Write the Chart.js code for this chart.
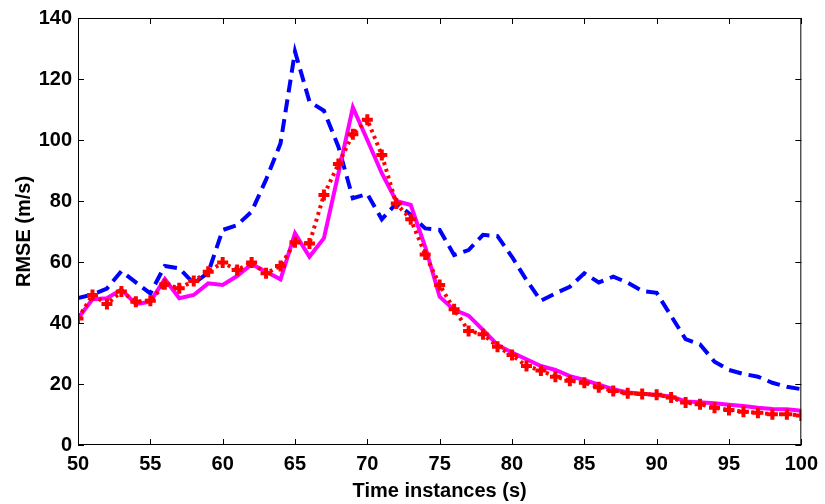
<!DOCTYPE html>
<html>
<head>
<meta charset="utf-8">
<script src="https://cdn.jsdelivr.net/npm/chart.js@4/dist/chart.umd.min.js"></script>
<style>
html,body{margin:0;padding:0;background:#fff;}
canvas{display:block;}
</style>
</head>
<body>
<canvas id="c" width="825" height="504"></canvas>
<script>
const timeInstances = [50,51,52,53,54,55,56,57,58,59,60,61,62,63,64,65,66,67,68,69,70,71,72,73,74,75,76,77,78,79,80,81,82,83,84,85,86,87,88,89,90,91,92,93,94,95,96,97,98,99,100];

const blueDashed = [48.2,49.3,51.3,57.0,53.3,49.7,58.7,57.9,53.0,56.5,70.5,72.1,76.5,87.0,98.9,129.0,112.6,109.6,97.8,80.9,82.3,74.0,79.2,75.5,71.0,70.5,62.3,63.9,68.9,68.5,61.7,54.1,47.3,49.7,51.9,56.3,53.3,55.2,53.2,50.5,49.9,42.3,34.7,33.0,27.3,24.6,23.3,22.4,20.4,19.1,18.3];

const magentaSolid = [41.5,47.8,48.1,51.0,46.2,47.0,54.4,48.1,49.2,53.0,52.5,55.4,59.3,56.8,54.3,69.4,61.7,67.8,89.0,110.7,100.0,89.1,80.0,78.7,65.0,48.6,44.3,42.4,37.7,32.8,30.3,28.1,25.9,24.6,22.6,21.3,19.8,18.3,17.2,16.8,16.4,15.9,14.3,14.0,13.7,13.2,12.8,12.2,11.8,11.7,11.2];

const redDotted = [41.5,49.2,46.2,50.3,47.0,47.3,52.7,51.4,53.8,56.8,59.8,57.4,59.8,56.3,58.7,66.5,66.1,82.0,92.1,101.9,106.6,95.1,79.2,74.0,62.5,52.5,44.5,37.4,36.3,32.2,29.5,25.9,24.4,22.4,21.1,20.4,18.9,17.7,17.0,16.7,16.5,15.6,13.9,13.4,12.2,11.5,10.9,10.6,10.1,10.1,9.7];

const xTicks = [50,55,60,65,70,75,80,85,90,95,100];
const yTicks = [0,20,40,60,80,100,120,140];

const toPoints = arr => timeInstances.map((t,i)=>({x:t,y:arr[i]}));

const FONT = "'Liberation Sans', Arial, Helvetica, sans-serif";

const framePlugin = {
  id:'frame',
  afterDatasetsDraw(chart){
    const {ctx, chartArea:a, scales} = chart;
    ctx.save();
    ctx.strokeStyle = '#000';
    ctx.lineWidth = 1;
    ctx.strokeRect(a.left+0.5, a.top+0.5, a.right-a.left-1, a.bottom-a.top-1);
    const L = 6;
    ctx.beginPath();
    xTicks.forEach(v=>{
      const px = Math.round(scales.x.getPixelForValue(v))+0.5;
      ctx.moveTo(px, a.bottom); ctx.lineTo(px, a.bottom-L);
      ctx.moveTo(px, a.top); ctx.lineTo(px, a.top+L);
    });
    yTicks.forEach(v=>{
      const py = Math.round(scales.y.getPixelForValue(v))+0.5;
      ctx.moveTo(a.left, py); ctx.lineTo(a.left+L, py);
      ctx.moveTo(a.right, py); ctx.lineTo(a.right-L, py);
    });
    ctx.stroke();
    ctx.restore();
  }
};

new Chart(document.getElementById('c'), {
  type:'line',
  data:{
    datasets:[
      {
        label:'Red',
        data:toPoints(redDotted),
        borderColor:'#ff0000',
        backgroundColor:'#ff0000',
        borderWidth:4,
        borderDash:[3,4],
        borderCapStyle:'butt',
        pointStyle:'cross',
        pointRadius:5.5,
        pointBorderWidth:4,
        pointBorderColor:'#ff0000',
        pointBackgroundColor:'#ff0000',
        tension:0,
        fill:false,
        order:0
      },
      {
        label:'Magenta',
        data:toPoints(magentaSolid),
        borderColor:'#ff00ff',
        borderWidth:4,
        pointRadius:0,
        tension:0,
        fill:false,
        order:1
      },
      {
        label:'Blue',
        data:toPoints(blueDashed),
        borderColor:'#0000ff',
        borderWidth:4,
        borderDash:[13,7],
        borderCapStyle:'butt',
        pointRadius:0,
        tension:0,
        fill:false,
        order:2
      }
    ]
  },
  options:{
    responsive:false,
    animation:false,
    devicePixelRatio:1,
    layout:{padding:{left:0,right:18,top:18,bottom:0}},
    plugins:{legend:{display:false},tooltip:{enabled:false}},
    scales:{
      x:{
        type:'linear',
        min:50,max:100,
        afterFit(s){ s.height = 59; },
        afterBuildTicks(s){ s.ticks = xTicks.map(v=>({value:v})); },
        grid:{display:true,drawOnChartArea:false,drawTicks:false,color:'#000'},
        border:{display:false},
        ticks:{color:'#000',padding:7,maxRotation:0,autoSkip:false,font:{family:FONT,size:20,weight:'bold'}},
        title:{display:true,text:'Time instances (s)',color:'#000',padding:{top:0,bottom:1},font:{family:FONT,size:20,weight:'bold'}}
      },
      y:{
        type:'linear',
        min:0,max:140,
        afterFit(s){ s.width = 78; },
        afterBuildTicks(s){ s.ticks = yTicks.map(v=>({value:v})); },
        grid:{display:true,drawOnChartArea:false,drawTicks:false,color:'#000'},
        border:{display:false},
        ticks:{color:'#000',padding:6,autoSkip:false,font:{family:FONT,size:20,weight:'bold'}},
        title:{display:true,text:'RMSE (m/s)',color:'#000',padding:{top:12,bottom:0},font:{family:FONT,size:20,weight:'bold'}}
      }
    }
  },
  plugins:[framePlugin]
});
</script>
</body>
</html>
